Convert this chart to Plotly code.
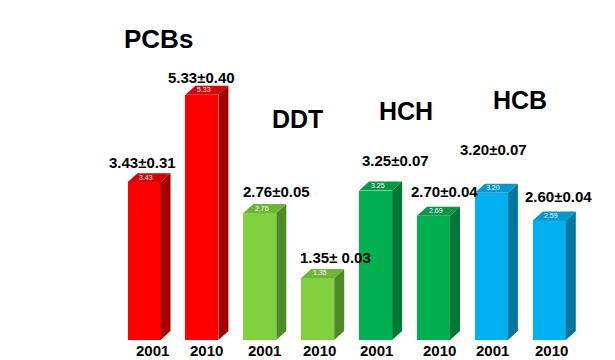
import plotly.graph_objects as go

# ---- data ----
groups = ["PCBs", "PCBs", "DDT", "DDT", "HCH", "HCH", "HCB", "HCB"]
years = ["2001", "2010", "2001", "2010", "2001", "2010", "2001", "2010"]
means = [3.43, 5.33, 2.76, 1.35, 3.25, 2.70, 3.20, 2.60]
value_labels = ["3.43±0.31", "5.33±0.40", "2.76±0.05", "1.35± 0.03",
                "3.25±0.07", "2.70±0.04", "3.20±0.07", "2.60±0.04"]
top_labels = ["3.43", "5.33", "2.76", "1.35", "3.25", "2.69", "3.20", "2.59"]
group_names = ["PCBs", "DDT", "HCH", "HCB"]

# ---- styling / layout (not data) ----
front_colors = ["#FF0000", "#FF0000", "#80D040", "#80D040",
                "#00B050", "#00B050", "#00B0F0", "#00B0F0"]
top_colors = ["#D80000", "#D80000", "#6CB535", "#6CB535",
              "#009A45", "#009A45", "#0098D0", "#0098D0"]
side_colors = ["#A40000", "#A40000", "#4E8A27", "#4E8A27",
               "#007835", "#007835", "#00779F", "#00779F"]

W, H = 615, 360
PX_X = 57.9      # pixels per bar slot
PX_Y = 46.0      # pixels per unit
X0_PX = 144      # pixel of first bar centre
BASE_PX = 340    # pixel of baseline
bar_w = 33 / PX_X
dx = 10 / PX_X
dy = 9 / PX_Y

label_xshift = [-2, 0, 17, 18, 20, 11, 2, 9]
label_yshift = [20, 17, 22, 20, 30, 24, 43, 24]
year_xshift = [8, 5, 5, 2, 1, 6, 1, 2]
group_pos_px = [(158, 39), (297, 119), (406, 111), (520, 100)]

FONT = "Arial, Liberation Sans, sans-serif"

xs = list(range(len(means)))
fig = go.Figure()

# front faces
fig.add_trace(go.Bar(x=xs, y=means, width=bar_w, marker=dict(color=front_colors, line=dict(width=0)),
                     hoverinfo="skip", showlegend=False))

# side and top faces
for i, v in enumerate(means):
    xr = i + bar_w / 2
    xl = i - bar_w / 2
    fig.add_trace(go.Scatter(
        x=[xr, xr + dx, xr + dx, xr, xr], y=[0, dy, v + dy, v, 0],
        fill="toself", fillcolor=side_colors[i], mode="lines", line=dict(width=0),
        hoverinfo="skip", showlegend=False))
    fig.add_trace(go.Scatter(
        x=[xl, xl + dx, xr + dx, xr, xl], y=[v, v + dy, v + dy, v, v],
        fill="toself", fillcolor=top_colors[i], mode="lines", line=dict(width=0),
        hoverinfo="skip", showlegend=False))

annotations = []
for i, v in enumerate(means):
    annotations.append(dict(x=i, y=v, text="<b>%s</b>" % value_labels[i], showarrow=False,
                            xshift=label_xshift[i], yshift=label_yshift[i],
                            font=dict(family=FONT, size=15, color="#000000")))
    annotations.append(dict(x=i, y=v, text=top_labels[i], showarrow=False,
                            xshift=2, yshift=5,
                            font=dict(family=FONT, size=7, color="#FFFFFF")))
    annotations.append(dict(x=i, y=0, yref="y", text="<b>%s</b>" % years[i], showarrow=False,
                            xshift=year_xshift[i], yshift=-10,
                            font=dict(family=FONT, size=15, color="#000000")))

for name, (px, py) in zip(group_names, group_pos_px):
    annotations.append(dict(x=(px - X0_PX) / PX_X, y=(BASE_PX - py) / PX_Y, text="<b>%s</b>" % name,
                            showarrow=False,
                            font=dict(family=FONT, size=26 if name == "PCBs" else 25, color="#000000")))

fig.update_layout(
    width=W, height=H,
    margin=dict(l=0, r=0, t=0, b=H - BASE_PX),
    paper_bgcolor="white", plot_bgcolor="white",
    xaxis=dict(range=[-X0_PX / PX_X, (W - X0_PX) / PX_X], visible=False, fixedrange=True),
    yaxis=dict(range=[0, BASE_PX / PX_Y], visible=False, fixedrange=True),
    annotations=annotations,
    bargap=0,
)

fig.write_html("out.html", config=dict(displayModeBar=False),
               post_script="document.body.style.margin='0';document.body.style.overflow='hidden';")
